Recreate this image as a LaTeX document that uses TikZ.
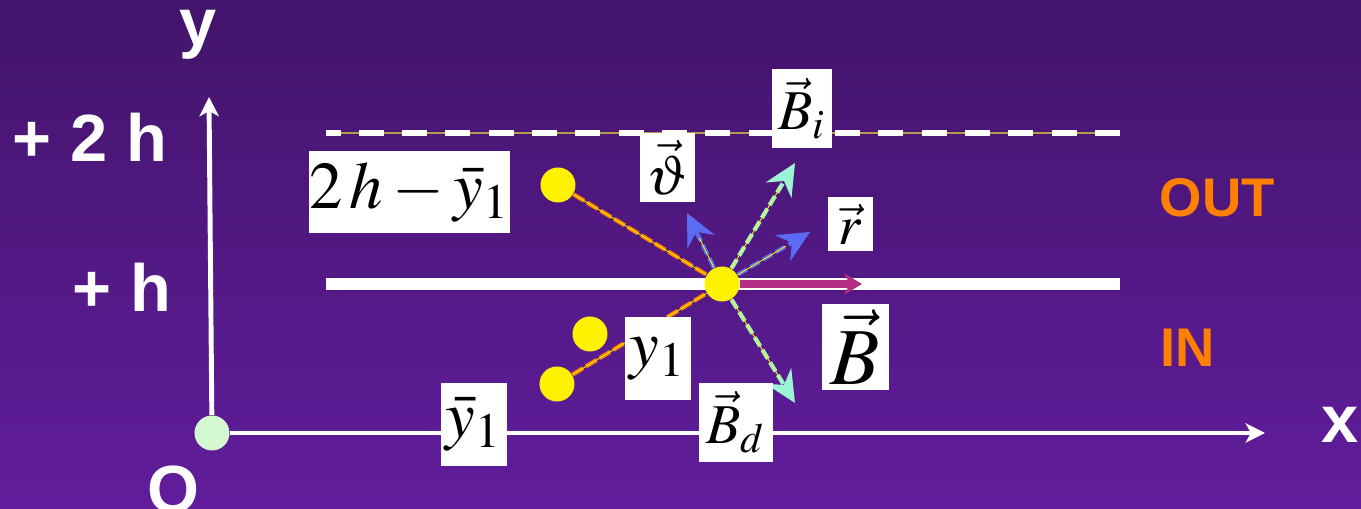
\documentclass[tikz,border=0pt]{standalone}
\usepackage{mathptmx}
\usepackage[no-math]{fontspec}
\setsansfont{Liberation Sans}
\usetikzlibrary{arrows.meta,positioning}
\definecolor{bgtop}{HTML}{43146B}
\definecolor{bgbot}{HTML}{611D9C}
\definecolor{outorange}{HTML}{FF7F00}
\definecolor{fieldpink}{HTML}{B52E84}
\definecolor{aqua}{HTML}{9CF4D6}
\definecolor{vecblue}{HTML}{5B6BF2}
\definecolor{orgreen}{HTML}{D3F7D1}
\definecolor{goldline}{HTML}{B49A4C}

\begin{document}
\begin{tikzpicture}[
  axis/.style={white,line width=1.4pt,-{Stealth[length=5.5pt,width=5.5pt,inset=1.5pt]}},
  charge/.style={circle,fill=yellow,minimum size=0.35cm,inner sep=0pt},
  plabel/.style={white,font=\sffamily\bfseries\fontsize{19}{19}\selectfont,inner sep=0pt},
  region/.style={outorange,font=\sffamily\bfseries\fontsize{15.5}{15.5}\selectfont,inner sep=0pt,anchor=base west},
  vlabel/.style={fill=white,inner sep=0pt,font=\fontsize{16}{16}\selectfont},
  blabel/.style={fill=white,inner sep=0pt,font=\fontsize{19}{19}\selectfont},
  fieldvec/.style={line width=1.2pt,dash pattern=on 3pt off 1.2pt,
    postaction={draw=yellow,line width=0.25pt,solid,-,shorten >=8pt},
    -{Stealth[length=9pt,width=8.5pt,inset=3pt]}},
  image/.style={outorange,line width=1.2pt,dash pattern=on 3.5pt off 1pt,
    postaction={draw=yellow,line width=0.25pt,solid}},
]
  \useasboundingbox (-2.12,-0.76) rectangle (11.49,4.33);
  \shade[top color=bgtop,bottom color=bgbot] (-2.12,-0.76) rectangle (11.49,4.33);

  % Planes at h and 2h
  \draw[white,line width=1.6pt,dash pattern=on 0.25cm off 0.183cm,
    preaction={draw=goldline,line width=0.4pt,solid}] (9.08,3.00) -- (1.14,3.00);
  \draw[white,line width=3.4pt] (1.14,1.49) -- (9.08,1.49);

  % Axes
  \node[circle,fill=orgreen,minimum size=0.35cm,inner sep=0pt] (O) at (0,0) {};
  \coordinate (ytip) at (-0.03,3.36);
  \coordinate (xtip) at (10.53,0);
  \draw[axis] (O) -- (ytip);
  \draw[axis] (O) -- (xtip);
  \node[plabel,anchor=base] (ylab) at (-0.14,3.87) {y};
  \node[plabel,anchor=base] (xlab) at (11.28,-0.10) {x};
  \node[plabel,anchor=base] (olab) at (-0.39,-0.80) {O};
  \node[plabel,anchor=base] (twoh) at (-1.22,2.71) {+ 2 h};
  \node[plabel,anchor=base] (oneh) at (-0.90,1.21) {+ h};
  \node[region] (out) at (9.47,2.16) {OUT};
  \node[region] (in) at (9.48,0.66) {IN};

  % Charges
  \node[charge] (q) at (5.10,1.49) {};
  \node[charge] (qa) at (3.46,2.48) {};
  \node[charge] (qb) at (3.78,0.99) {};
  \node[charge] (qc) at (3.45,0.49) {};
  \draw[image] (qa) -- (q);
  \draw[image] (qc) -- (q);

  % Field vectors
  \coordinate (Btip) at (6.50,1.49);
  \coordinate (Bitip) at (5.83,2.70);
  \coordinate (Bdtip) at (5.83,0.30);
  \coordinate (thtip) at (4.75,2.20);
  \coordinate (rtip) at (5.98,2.01);
  \draw[fieldpink,line width=2.3pt,-{Stealth[length=5pt,width=6pt,inset=1.5pt]}] (q) -- (Btip);
  \draw[fieldvec,aqua] (q) -- (Bitip);
  \draw[fieldvec,aqua] (q) -- (Bdtip);
  \draw[fieldvec,vecblue] (q) -- (thtip);
  \draw[fieldvec,vecblue] (q) -- (rtip);

  % Labels
  \node[vlabel,minimum width=0.60cm,minimum height=0.79cm] (Bi) at (5.90,3.245) {$\vec{B}_i$};
  \node[vlabel,minimum width=0.55cm,minimum height=0.69cm] (th) at (4.555,2.655) {$\vec{\vartheta}$};
  \node[vlabel,minimum width=0.45cm,minimum height=0.54cm] (r) at (6.385,2.09) {$\vec{r}$};
  \node[vlabel,minimum width=0.74cm,minimum height=0.79cm] (Bd) at (5.24,0.105) {$\vec{B}_d$};
  \node[fill=white,inner sep=0pt,font=\fontsize{23}{23}\selectfont,minimum width=0.67cm,minimum height=0.86cm] (B) at (6.435,0.86) {$\vec{B}$};
  \node[blabel,minimum width=0.66cm,minimum height=0.83cm] (y1) at (4.46,0.745) {$y_1$};
  \node[blabel,minimum width=0.66cm,minimum height=0.83cm] (ybar) at (2.62,0.085) {$\bar{y}_1$};
  \node[blabel,minimum width=2.01cm,minimum height=0.82cm] (img) at (1.975,2.41) {$2\,h-\bar{y}_1$};
\end{tikzpicture}
\end{document}
